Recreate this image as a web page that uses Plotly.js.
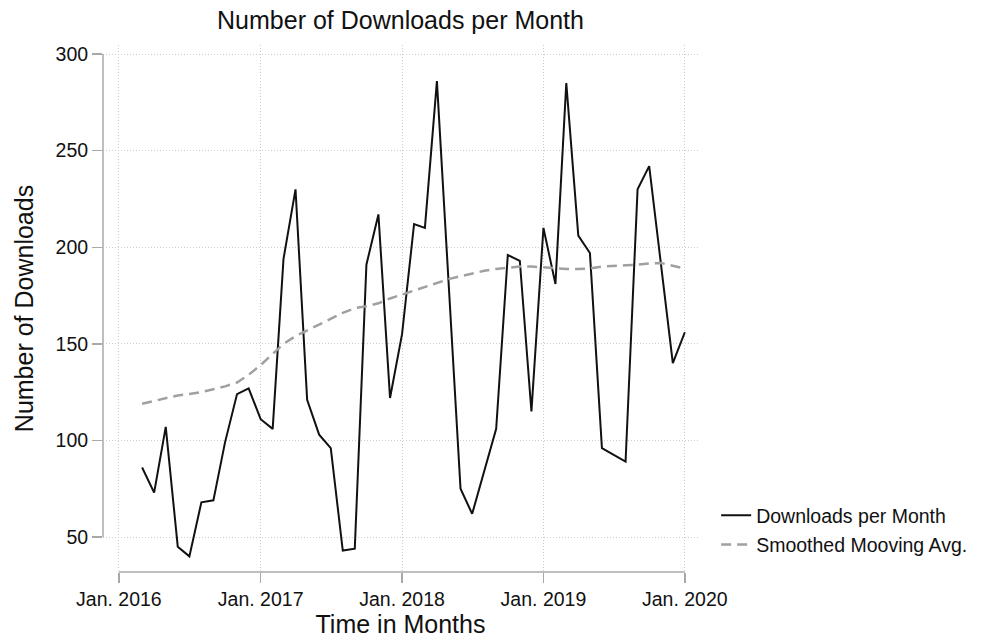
<!DOCTYPE html>
<html>
<head>
<meta charset="utf-8">
<script src="https://cdn.plot.ly/plotly-3.0.1.min.js"></script>
<style>html,body{margin:0;padding:0;background:#fff;}#chart{width:985px;height:638px;}</style>
</head>
<body>
<div id="chart"></div>
<script>
// Monthly downloads (months with no vertex in the picture are omitted)
var dlDates = ['2016-03-01','2016-04-01','2016-05-01','2016-06-01','2016-07-01','2016-08-01','2016-09-01','2016-10-01','2016-11-01','2016-12-01',
  '2017-01-01','2017-02-01','2017-03-01','2017-04-01','2017-05-01','2017-06-01','2017-07-01','2017-08-01','2017-09-01','2017-10-01','2017-11-01','2017-12-01',
  '2018-01-01','2018-02-01','2018-03-01','2018-04-01','2018-06-01','2018-07-01','2018-09-01','2018-10-01','2018-11-01','2018-12-01',
  '2019-01-01','2019-02-01','2019-03-01','2019-04-01','2019-05-01','2019-06-01','2019-08-01','2019-09-01','2019-10-01','2019-12-01',
  '2020-01-01'];
var dlValues = [86,73,107,45,40,68,69,99,124,127,
  111,106,194,230,121,103,96,43,44,191,217,122,
  155,212,210,286,75,62,106,196,193,115,
  210,181,285,206,197,96,89,230,242,140,
  156];

// Smoothed moving average
var maDates = ['2016-03-01','2016-04-01','2016-05-01','2016-06-01','2016-07-01','2016-08-01','2016-09-01','2016-10-01','2016-11-01','2016-12-01',
  '2017-01-01','2017-02-01','2017-03-01','2017-04-01','2017-05-01','2017-06-01','2017-07-01','2017-08-01','2017-09-01','2017-10-01','2017-11-01','2017-12-01',
  '2018-01-01','2018-02-01','2018-03-01','2018-04-01','2018-05-01','2018-06-01','2018-07-01','2018-08-01','2018-09-01','2018-10-01','2018-11-01','2018-12-01',
  '2019-01-01','2019-02-01','2019-03-01','2019-04-01','2019-05-01','2019-06-01','2019-07-01','2019-08-01','2019-09-01','2019-10-01','2019-11-01','2019-12-01',
  '2020-01-01'];
var maValues = [119,120.5,122,123.3,124,125,126.5,128,130,134,
  139,145,150,154,157,160,163,166,168.5,169.5,171,173.5,
  175.5,177.5,179.5,181.5,183.5,185,186.5,187.8,188.8,189.5,190,190,
  189.5,189,188.8,188.8,189,190,190.5,190.7,191,191.6,191.8,190.5,
  189];

var xTickVals = ['2016-01-01','2017-01-01','2018-01-01','2019-01-01','2020-01-01'];
var xTickText = ['Jan. 2016','Jan. 2017','Jan. 2018','Jan. 2019','Jan. 2020'];
var yTickVals = [50,100,150,200,250,300];

var FONT = '"Liberation Sans", Arial, sans-serif';
var AXIS_GREY = '#a8a8a8';

var traces = [
  {x: dlDates, y: dlValues, type: 'scatter', mode: 'lines', name: 'Downloads per Month',
   legendgroup: 'a', line: {color: '#111111', width: 2}},
  {x: maDates, y: maValues, type: 'scatter', mode: 'lines', name: 'Smoothed Mooving Avg.',
   legendgroup: 'b', line: {color: '#a0a0a0', width: 2.5, dash: '10px,6px'}}
];

var layout = {
  width: 985, height: 638,
  margin: {l: 103, r: 287, t: 45, b: 66},
  paper_bgcolor: '#ffffff', plot_bgcolor: '#ffffff',
  font: {family: FONT, color: '#111111', size: 19},
  showlegend: true,
  title: {text: 'Number of Downloads per Month', font: {family: FONT, size: 25, color: '#111'},
          xref: 'paper', x: 0.5, xanchor: 'center', yref: 'container', y: 0.968, yanchor: 'middle'},
  xaxis: {
    type: 'date', range: ['2015-11-21', '2020-02-04'],
    tickvals: xTickVals, ticktext: xTickText,
    ticks: 'outside', ticklen: 10, tickcolor: AXIS_GREY, tickwidth: 1.5,
    showline: false, zeroline: false,
    showgrid: true, gridcolor: '#cccccc', griddash: '1px,2px', gridwidth: 1,
    tickfont: {family: FONT, size: 19.5, color: '#111'},
    title: {text: 'Time in Months', font: {family: FONT, size: 25, color: '#111'}, standoff: 8},
    automargin: false
  },
  yaxis: {
    range: [31.9, 304.7],
    tickvals: yTickVals,
    ticks: 'outside', ticklen: 10, tickcolor: AXIS_GREY, tickwidth: 1.5,
    showline: false, zeroline: false,
    showgrid: true, gridcolor: '#cccccc', griddash: '1px,2px', gridwidth: 1,
    tickfont: {family: FONT, size: 19.5, color: '#111'},
    title: {text: 'Number of Downloads', font: {family: FONT, size: 25, color: '#111'}, standoff: 14},
    automargin: false
  },
  shapes: [
    {type: 'line', xref: 'paper', yref: 'y', x0: 0, x1: 0,
     y0: yTickVals[0], y1: yTickVals[yTickVals.length - 1], line: {color: AXIS_GREY, width: 1.5}},
    {type: 'line', xref: 'x', yref: 'paper', y0: 0, y1: 0,
     x0: xTickVals[0], x1: xTickVals[xTickVals.length - 1], line: {color: AXIS_GREY, width: 1.5}}
  ],
  legend: {x: 1.0305, xanchor: 'left', y: 0.1443, yanchor: 'top',
           font: {family: FONT, size: 19.5, color: '#111'}, bgcolor: 'rgba(0,0,0,0)',
           traceorder: 'grouped', tracegroupgap: 1, itemwidth: 30}
};

Plotly.newPlot('chart', traces, layout, {displayModeBar: false, staticPlot: true});
</script>
</body>
</html>
